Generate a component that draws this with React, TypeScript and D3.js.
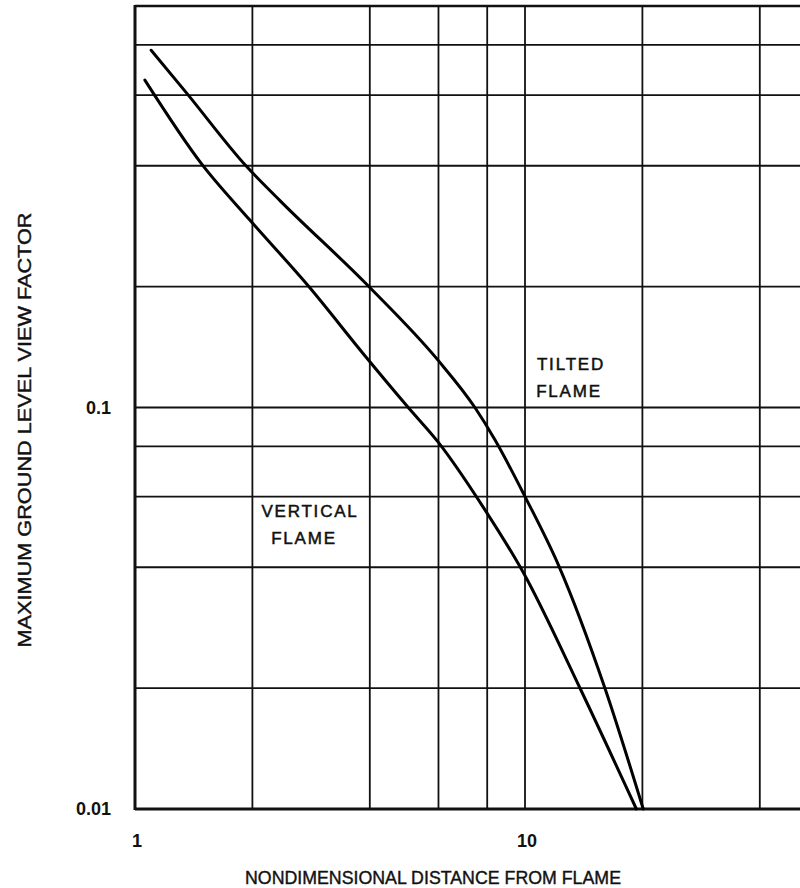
import React from "react";
import * as d3 from "d3";

const xGrid = [2, 4, 6, 8, 10, 20, 40];
const yGrid = [0.02, 0.04, 0.06, 0.08, 0.1, 0.2, 0.4, 0.6, 0.8];
const xTickLabels = [
  { v: 1, t: "1" },
  { v: 10, t: "10" },
];
const yTickLabels = [
  { v: 0.1, t: "0.1" },
  { v: 0.01, t: "0.01" },
];

const tiltedX = [1.1, 1.36, 1.92, 2.35, 3.96, 5.99, 7.44, 8.38, 10.0, 12.2, 16.0, 20.1];
const tiltedY = [0.776, 0.605, 0.401, 0.328, 0.201, 0.131, 0.1, 0.083, 0.06, 0.0404, 0.0201, 0.01];
const verticalX = [1.06, 1.48, 1.97, 2.78, 3.9, 5.02, 5.99, 7.82, 9.9, 13.8, 19.3];
const verticalY = [0.654, 0.405, 0.293, 0.201, 0.134, 0.1, 0.082, 0.0564, 0.0388, 0.0201, 0.01];

const FONT = "'Liberation Sans', Arial, Helvetica, sans-serif";

export default function App() {
  const x0 = 135;
  const dec = 390;
  const xMax = 55;
  const x = d3.scaleLog().domain([1, xMax]).range([x0, x0 + dec * Math.log10(xMax)]);
  const y = d3.scaleLog().domain([0.01, 1]).range([809, 6]);
  const right = 800;

  const line = d3
    .line<[number, number]>()
    .x((d) => x(d[0]))
    .y((d) => y(d[1]))
    .curve(d3.curveMonotoneX);

  const tilted: [number, number][] = tiltedX.map((v, i) => [v, tiltedY[i]]);
  const vertical: [number, number][] = verticalX.map((v, i) => [v, verticalY[i]]);

  return (
    <svg
      width={800}
      height={888}
      style={{ position: "absolute", left: 0, top: 0, background: "#fff" }}
    >
      <rect x={0} y={0} width={800} height={888} fill="#fff" />
      {xGrid.map((v) => (
        <line key={"gx" + v} x1={x(v)} x2={x(v)} y1={y(1)} y2={y(0.01)} stroke="#111" strokeWidth={1.8} />
      ))}
      {yGrid.map((v) => (
        <line key={"gy" + v} x1={x(1)} x2={right} y1={y(v)} y2={y(v)} stroke="#111" strokeWidth={1.8} />
      ))}
      <line x1={x(1)} x2={right} y1={y(1)} y2={y(1)} stroke="#111" strokeWidth={2.4} />
      <line x1={x(1)} x2={right} y1={y(0.01)} y2={y(0.01)} stroke="#111" strokeWidth={2.8} />
      <line x1={x(1)} x2={x(1)} y1={y(1) - 1} y2={y(0.01) + 1} stroke="#111" strokeWidth={3} />

      <path d={line(tilted) || ""} fill="none" stroke="#000" strokeWidth={3} strokeLinecap="round" />
      <path d={line(vertical) || ""} fill="none" stroke="#000" strokeWidth={3} strokeLinecap="round" />

      <g
        fontFamily={FONT}
        fontSize={17}
        fill="#111"
        stroke="#111"
        strokeWidth={0.5}
        textAnchor="middle"
        letterSpacing={1.8}
      >
        <text x={571} y={370}>TILTED</text>
        <text x={569} y={397}>FLAME</text>
        <text x={310} y={517}>VERTICAL</text>
        <text x={304} y={544}>FLAME</text>
      </g>

      <g fontFamily={FONT} fontSize={18} fontWeight="bold" fill="#111">
        {yTickLabels.map((d) => (
          <text key={d.t} x={111} y={y(d.v) + 6} textAnchor="end">
            {d.t}
          </text>
        ))}
        {xTickLabels.map((d) => (
          <text key={d.t} x={x(d.v) + 2} y={847} textAnchor="middle">
            {d.t}
          </text>
        ))}
      </g>

      <text
        x={433}
        y={884}
        textAnchor="middle"
        fontFamily={FONT}
        fontSize={18}
        fill="#111"
        stroke="#111"
        strokeWidth={0.4}
        textLength={376}
        lengthAdjust="spacingAndGlyphs"
      >
        NONDIMENSIONAL DISTANCE FROM FLAME
      </text>
      <text
        transform="translate(31,430) rotate(-90)"
        textAnchor="middle"
        fontFamily={FONT}
        fontSize={18}
        fill="#111"
        stroke="#111"
        strokeWidth={0.4}
        textLength={435}
        lengthAdjust="spacingAndGlyphs"
      >
        MAXIMUM GROUND LEVEL VIEW FACTOR
      </text>
    </svg>
  );
}
